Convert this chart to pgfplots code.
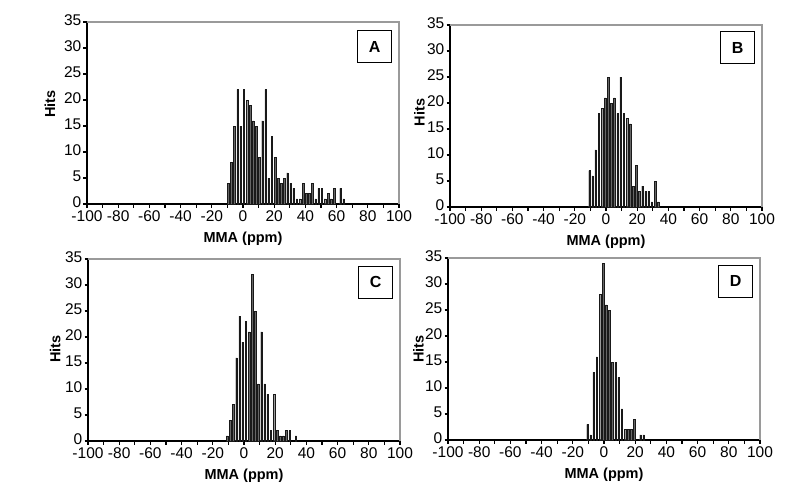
\documentclass[border=0pt]{standalone}
\usepackage{pgfplots}
\pgfplotsset{compat=1.18}
\usepackage{fontspec}
\setmainfont{Liberation Sans}
\definecolor{bordergray}{HTML}{9A9A9A}
\definecolor{barfill}{HTML}{666666}

\pgfplotsset{
  panel/.style={
    scale only axis, width=312pt, height=182pt,
    xmin=-100, xmax=100, ymin=0, ymax=35,
    axis lines=left, axis line style={-, line width=1.6pt, black},
    xtick={-100,-80,...,100}, minor xtick={-90,-70,...,90},
    ytick={0,5,...,35},
    tick align=outside, major tick length=3.5pt, minor tick length=3.5pt,
    every tick/.style={black, line width=1.2pt},
    every minor tick/.style={black, line width=1.2pt},
    tick label style={font=\fontsize{15.5}{15.5}\selectfont, /pgf/number format/assume math mode=true},
    xticklabel style={inner sep=0pt, yshift=-2.5pt},
    yticklabel style={inner sep=0pt, xshift=-2pt, yshift=2pt},
    label style={font=\bfseries\fontsize{14.5}{14.5}\selectfont},
    xlabel={MMA (ppm)}, ylabel={Hits},
    xlabel style={at={(axis description cs:0.5,-0.19)}, anchor=center},
    ybar, bar width=1.0, bar shift=0pt,
    clip=false,
    after end axis/.code={\draw[bordergray, line width=1.6pt] (rel axis cs:0,1) -- (rel axis cs:1,1) -- (rel axis cs:1,0);},
  },
  bars/.style={fill=barfill, draw=black!90, line width=0.35pt},
}
\tikzset{
  boxlab/.style={draw, line width=1pt, minimum width=34pt, minimum height=32pt, anchor=north east, inner sep=0pt, font=\bfseries\fontsize{16}{16}\selectfont},
}

\begin{document}
\begin{tikzpicture}
\path[use as bounding box] (0,0) rectangle (800pt,499pt);

% Panel A
\begin{axis}[panel, at={(87pt,295pt)}, anchor=south west,
  ylabel style={at={(axis description cs:-0.119,0.55)}, anchor=center}]
\addplot[bars] coordinates {(-9.5,4)(-7.5,8)(-5.5,15)(-3.5,22)(-1.5,15)(0.5,22)(2.5,20)(4.5,19)(6.5,16)(8.5,15)(10.5,9)(12.5,16)(14.5,22)(16.5,5)(18.5,13)(20.5,9)(22.5,5)(24.5,4)(26.5,5)(28.5,6)(30.5,4)(32.5,3)(34.5,1)(36.5,1)(38.5,4)(40.5,2)(42.5,2)(44.5,4)(46.5,1)(48.5,3)(50.5,3)(52.5,1)(54.5,2)(56.5,1)(58.5,3)(62.5,3)(64.5,1)};
\node[boxlab] at (rel axis cs:0.978,0.956) {A};
\end{axis}

% Panel B
\begin{axis}[panel, at={(450pt,292pt)}, anchor=south west,
  ylabel style={at={(axis description cs:-0.098,0.52)}, anchor=center}]
\addplot[bars] coordinates {(-10.6,7)(-8.6,6)(-6.6,11)(-4.6,18)(-2.6,19)(-0.6,21)(1.4,25)(3.4,20)(5.4,21)(7.4,18)(9.4,25)(11.4,18)(13.4,17)(15.4,16)(17.4,4)(19.4,8)(21.4,3)(23.4,4)(25.4,3)(27.4,3)(29.4,1)(31.4,5)(33.4,1)};
\node[boxlab] at (rel axis cs:0.978,0.967) {B};
\end{axis}

% Panel C
\begin{axis}[panel, at={(88pt,58pt)}, anchor=south west,
  ylabel style={at={(axis description cs:-0.105,0.505)}, anchor=center}]
\addplot[bars] coordinates {(-10.8,1)(-8.8,4)(-6.8,7)(-4.8,16)(-2.8,24)(-0.8,19)(1.2,23)(3.2,21)(5.2,32)(7.2,25)(9.2,11)(11.2,21)(13.2,11)(15.2,9)(17.2,2)(19.2,9)(21.2,2)(23.2,1)(25.2,1)(27.2,2)(29.2,2)(33.2,1)};
\node[boxlab] at (rel axis cs:0.978,0.962) {C};
\end{axis}

% Panel D
\begin{axis}[panel, at={(448pt,59pt)}, anchor=south west,
  ylabel style={at={(axis description cs:-0.095,0.5)}, anchor=center}]
\addplot[bars] coordinates {(-10.6,3)(-8.6,1)(-6.6,13)(-4.6,16)(-2.6,28)(-0.6,34)(1.4,26)(3.4,25)(5.4,15)(7.4,15)(9.4,12)(11.4,6)(13.4,2)(15.4,2)(17.4,2)(19.4,4)(23.4,1)(25.4,1)};
\node[boxlab] at (rel axis cs:0.978,0.962) {D};
\end{axis}
\end{tikzpicture}
\end{document}
